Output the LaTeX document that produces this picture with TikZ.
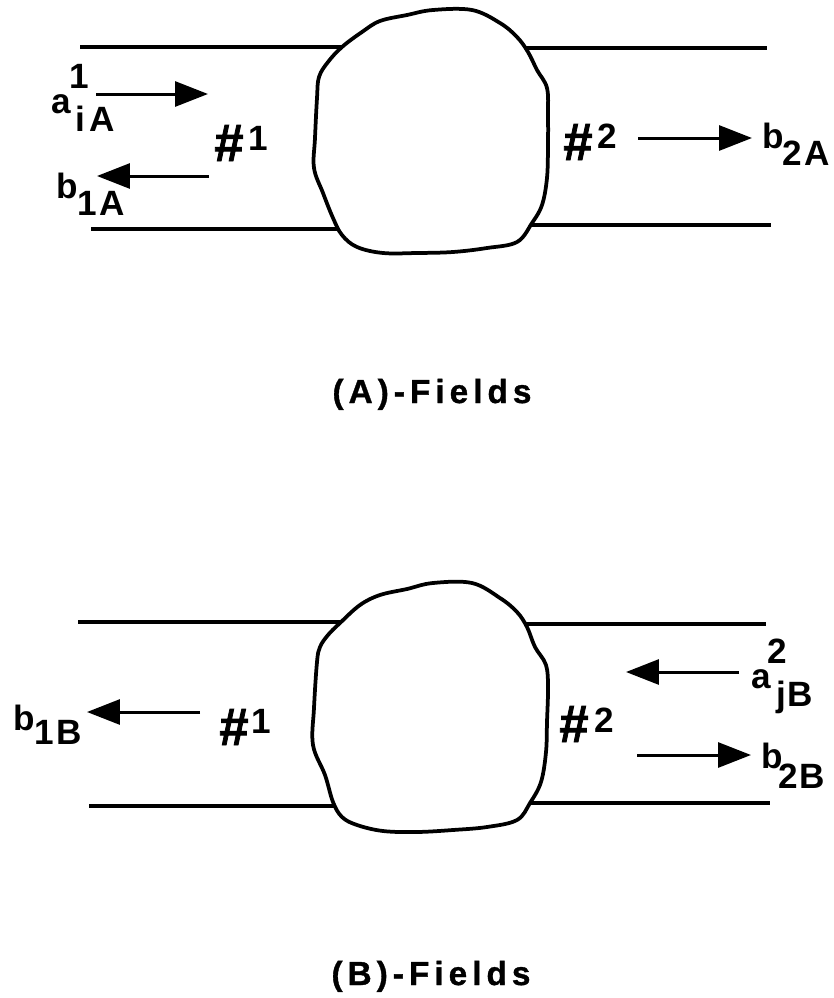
\documentclass[tikz,border=0pt]{standalone}
\usepackage{fontspec}
\setmainfont{Liberation Sans}
\newfontfamily\capfont[LetterSpace=15,FakeBold=1]{Liberation Sans}
\newfontfamily\portfont[FakeBold=1.5]{Liberation Sans}
\usetikzlibrary{arrows.meta,positioning}
\tikzset{
  wall/.style={line width=0.075cm,black},
  blob/.style={line width=0.075cm,black,fill=white},
  field/.style={line width=0.06cm,black,-{Triangle[length=0.66cm,width=0.5cm]}},
  lbl/.style={inner sep=0pt,anchor=base west,font=\bfseries\fontsize{20}{22}\selectfont},
  portlbl/.style={inner sep=0pt,anchor=base west,font=\portfont\bfseries\fontsize{30}{33}\selectfont},
  fieldcap/.style={inner sep=0pt,anchor=base,font=\capfont\bfseries\fontsize{19}{22}\selectfont}
}
\begin{document}
\begin{tikzpicture}[x=0.02cm,y=-0.02cm]
    \useasboundingbox (0,0) rectangle (834,998);
    % top device
    \coordinate (wa1) at (80,47);
    \coordinate (wa2) at (342,47);
    \coordinate (wa3) at (526,48);
    \coordinate (wa4) at (767,48);
    \coordinate (wa5) at (91,229);
    \coordinate (wa6) at (338,229);
    \coordinate (wa7) at (530,225);
    \coordinate (wa8) at (771,225);
    \draw[wall] (wa1) -- (wa2);
    \draw[wall] (wa3) -- (wa4);
    \draw[wall] (wa5) -- (wa6);
    \draw[wall] (wa7) -- (wa8);
    \draw[blob] plot[smooth cycle,tension=0.6] coordinates {(342,47) (362,32) (380,21) (407,15) (433,10) (472,10) (500,23) (517,37) (528,52) (537,70) (547,88) (548,115) (548,145) (547,178) (542,205) (532,223) (517,242) (487,248) (453,252) (417,253) (383,253) (357,247) (342,235) (333,218) (323,193) (314,168) (315,138) (317,98) (319,77) (328,62)};
    \node[lbl] (a1) at (51,113) {a};
    \node[lbl] (a1s) at (69,88) {1};
    \node[lbl] (a1i) at (75,131) {i\kern2.5pt A};
    \coordinate (a1b) at (96,94);
    \coordinate (a1e) at (208,94);
    \draw[field] (a1b) -- (a1e);
    \node[lbl] (b1) at (56,198) {b\raisebox{-10.2pt}{1\kern1pt A}};
    \coordinate (b1b) at (209,176);
    \coordinate (b1e) at (97,176);
    \draw[field] (b1b) -- (b1e);
    \node[portlbl] (p1a) at (214,161) {\#};
    \node[lbl] (p1as) at (248,150) {1};
    \node[portlbl] (p2a) at (563,160) {\#};
    \node[lbl] (p2as) at (597,148) {2};
    \coordinate (b2b) at (638,138);
    \coordinate (b2e) at (752,138);
    \draw[field] (b2b) -- (b2e);
    \node[lbl] (b2) at (762,148) {b\kern-1pt\raisebox{-9.7pt}{2\kern1.5pt A}};
    \node[fieldcap] (capa) at (432,403) {(A)-Fields};
    % bottom device
    \coordinate (wb1) at (78,622);
    \coordinate (wb2) at (340,622);
    \coordinate (wb3) at (526,624);
    \coordinate (wb4) at (766,624);
    \coordinate (wb5) at (89,806);
    \coordinate (wb6) at (336,806);
    \coordinate (wb7) at (530,803);
    \coordinate (wb8) at (770,803);
    \draw[wall] (wb1) -- (wb2);
    \draw[wall] (wb3) -- (wb4);
    \draw[wall] (wb5) -- (wb6);
    \draw[wall] (wb7) -- (wb8);
    \draw[blob] plot[smooth cycle,tension=0.6] coordinates {(340,623) (360,605) (380,595) (407,589) (433,583) (472,583) (500,598) (517,612) (527,627) (535,647) (546,665) (548,688) (547,722) (546,752) (541,782) (530,803) (517,820) (487,827) (453,830) (417,832) (383,831) (357,825) (342,817) (333,802) (325,775) (313,745) (314,708) (317,662) (320,647) (328,635)};
    \node[lbl] (b3) at (13,730) {b\raisebox{-8.5pt}{1\kern1.5pt B}};
    \coordinate (b3b) at (200,712);
    \coordinate (b3e) at (87,712);
    \draw[field] (b3b) -- (b3e);
    \node[portlbl] (p1b) at (219,745) {\#};
    \node[lbl] (p1bs) at (251,733) {1};
    \node[portlbl] (p2b) at (559,742) {\#};
    \node[lbl] (p2bs) at (594,732) {2};
    \coordinate (a2b) at (739,672);
    \coordinate (a2e) at (626,672);
    \draw[field] (a2b) -- (a2e);
    \node[lbl] (a2) at (751,688) {a};
    \node[lbl] (a2s) at (767,663) {2};
    \node[lbl] (a2i) at (776,706) {j\kern1pt B};
    \coordinate (b4b) at (637,755);
    \coordinate (b4e) at (751,755);
    \draw[field] (b4b) -- (b4e);
    \node[lbl] (b4) at (761,768) {b\kern-2.5pt\raisebox{-11.4pt}{2\kern1pt B}};
    \node[fieldcap] (capb) at (431,985) {(B)-Fields};
\end{tikzpicture}
\end{document}
